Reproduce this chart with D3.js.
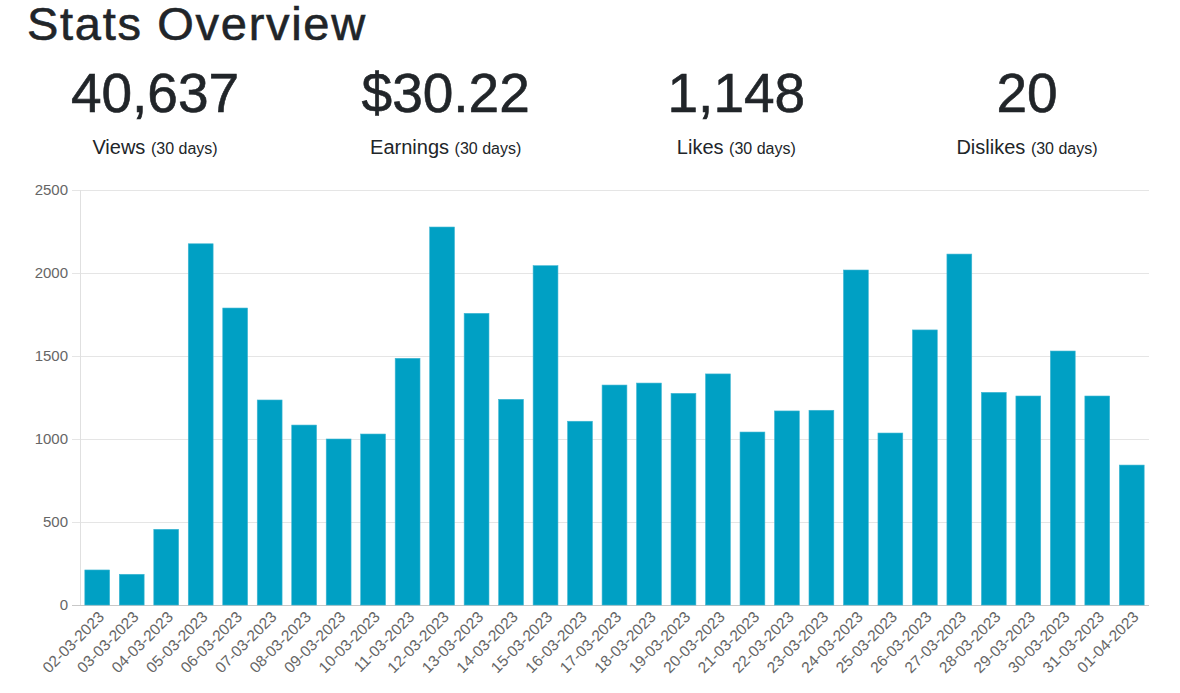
<!DOCTYPE html>
<html>
<head>
<meta charset="utf-8">
<script src="https://cdn.jsdelivr.net/npm/d3@7"></script>
<style>
    body { margin: 0; background: #fff; }
    text { font-family: "Helvetica Neue", Helvetica, Arial, "Liberation Sans", sans-serif; }
</style>
</head>
<body>
<script>
const width = 1180;
const height = 693;

// summary numbers at the top
const statValues = ["40,637", "$30.22", "1,148", "20"];
const statNames = ["Views", "Earnings", "Likes", "Dislikes"];
const statPeriod = "(30 days)";

// daily views
const dates = [
    "02-03-2023", "03-03-2023", "04-03-2023", "05-03-2023", "06-03-2023",
    "07-03-2023", "08-03-2023", "09-03-2023", "10-03-2023", "11-03-2023",
    "12-03-2023", "13-03-2023", "14-03-2023", "15-03-2023", "16-03-2023",
    "17-03-2023", "18-03-2023", "19-03-2023", "20-03-2023", "21-03-2023",
    "22-03-2023", "23-03-2023", "24-03-2023", "25-03-2023", "26-03-2023",
    "27-03-2023", "28-03-2023", "29-03-2023", "30-03-2023", "31-03-2023",
    "01-04-2023"
];
const views = [
    211, 185, 456, 2176, 1789, 1235, 1084, 1000, 1030, 1486,
    2277, 1757, 1239, 2044, 1107, 1325, 1337, 1275, 1392, 1042,
    1169, 1173, 2018, 1036, 1657, 2114, 1281, 1259, 1530, 1259,
    843
];
const yTicks = [0, 500, 1000, 1500, 2000, 2500];

const svg = d3
    .select("body")
    .append("svg")
    .attr("width", width)
    .attr("height", height);

// heading
svg.append("text")
    .attr("x", 27)
    .attr("y", 40)
    .attr("font-size", 47)
    .attr("letter-spacing", 1.7)
    .attr("fill", "#212529")
    .attr("stroke", "#212529")
    .attr("stroke-width", 0.6)
    .text("Stats Overview");

// stat columns
const colX = d3.scalePoint()
    .domain(d3.range(statValues.length))
    .range([155, 1027]);

const stats = svg.selectAll(".stat")
    .data(statValues)
    .join("g")
    .attr("class", "stat")
    .attr("transform", (d, i) => `translate(${colX(i)},0)`);

stats.append("text")
    .attr("y", 112)
    .attr("text-anchor", "middle")
    .attr("font-size", 55)
    .attr("fill", "#212529")
    .attr("stroke", "#212529")
    .attr("stroke-width", 0.6)
    .text((d) => d);

const label = stats.append("text")
    .attr("y", 154)
    .attr("text-anchor", "middle")
    .attr("fill", "#212529");
label.append("tspan")
    .attr("font-size", 20)
    .text((d, i) => statNames[i] + " ");
label.append("tspan")
    .attr("font-size", 16)
    .text(statPeriod);

// bar chart
const margin = { top: 190, right: 31, bottom: 88, left: 80 };

const x = d3.scaleBand()
    .domain(dates)
    .range([margin.left, width - margin.right])
    .paddingInner(0.28)
    .paddingOuter(0.14);

const y = d3.scaleLinear()
    .domain([0, 2500])
    .range([height - margin.bottom, margin.top]);

// grid lines
svg.append("g")
    .selectAll("line")
    .data(yTicks)
    .join("line")
    .attr("x1", margin.left - 8)
    .attr("x2", width - margin.right)
    .attr("y1", (d) => y(d) + 0.5)
    .attr("y2", (d) => y(d) + 0.5)
    .attr("stroke", (d) => (d === 0 ? "#c8c8c8" : "#e5e5e5"));

svg.append("line")
    .attr("x1", margin.left + 0.5)
    .attr("x2", margin.left + 0.5)
    .attr("y1", margin.top)
    .attr("y2", y(0))
    .attr("stroke", "#e0e0e0");

// y tick labels
svg.append("g")
    .selectAll("text")
    .data(yTicks)
    .join("text")
    .attr("x", margin.left - 12)
    .attr("y", (d) => y(d))
    .attr("dy", "0.35em")
    .attr("text-anchor", "end")
    .attr("font-size", 15)
    .attr("fill", "#666")
    .text((d) => d);

// bars
svg.append("g")
    .selectAll("rect")
    .data(views)
    .join("rect")
    .attr("x", (d, i) => x(dates[i]))
    .attr("y", (d) => y(d))
    .attr("width", x.bandwidth())
    .attr("height", (d) => y(0) - y(d))
    .attr("fill", "#00a0c4")
    .attr("stroke", "#3fb6d2")
    .attr("stroke-width", 0.6);

// rotated date labels
svg.append("g")
    .selectAll("text")
    .data(dates)
    .join("text")
    .attr("transform", (d) => `translate(${x(d) + x.bandwidth() / 2 + 4},614) rotate(-45)`)
    .attr("dy", "0.35em")
    .attr("text-anchor", "end")
    .attr("font-size", 15.5)
    .attr("fill", "#666")
    .text((d) => d);
</script>
</body>
</html>
